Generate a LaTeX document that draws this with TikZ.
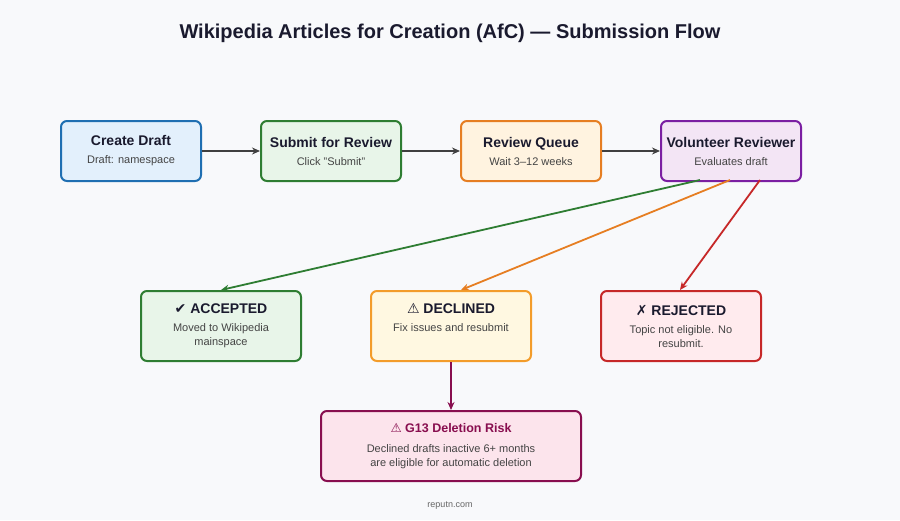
\documentclass[tikz,border=0pt]{standalone}
\usepackage{fontspec}
\setmainfont{Liberation Sans}
\newfontfamily\symf{DejaVu Sans}
\usetikzlibrary{arrows.meta}
\definecolor{bg}{HTML}{F8F9FB}
\definecolor{tx}{HTML}{1A1A2E}
\definecolor{sub}{HTML}{444444}
\definecolor{cB}{HTML}{1F6FB2}\definecolor{fB}{HTML}{E3F0FC}
\definecolor{cG}{HTML}{2E7D32}\definecolor{fG}{HTML}{E8F5E9}
\definecolor{cO}{HTML}{E67E22}\definecolor{fO}{HTML}{FFF3E0}
\definecolor{cP}{HTML}{7B1FA2}\definecolor{fP}{HTML}{F3E5F5}
\definecolor{cY}{HTML}{F39C2A}\definecolor{fY}{HTML}{FFF8E1}
\definecolor{cR}{HTML}{C62828}\definecolor{fR}{HTML}{FFEBEE}
\definecolor{cM}{HTML}{880E4F}\definecolor{fM}{HTML}{FCE4EC}
\tikzset{
 box/.style={draw=#1, line width=2pt, rounded corners=6pt, align=center, anchor=north west, inner sep=0pt, text=sub, font=\fontsize{11}{14}\selectfont},
 arr/.style={-{Stealth[length=8pt,width=7pt]}, line width=1.8pt},
}
\newcommand{\bx}[1]{{\fontsize{14}{17}\selectfont\bfseries\color{tx}#1}\\[4pt]}
\begin{document}
\begin{tikzpicture}[x=1pt,y=-1pt]
\fill[bg] (0,0) rectangle (900,520);
\useasboundingbox (0,0) rectangle (900,520);
\node[font=\fontsize{20}{24}\selectfont\bfseries, text=tx] (title) at (450,33) {Wikipedia Articles for Creation (AfC) — Submission Flow};
\node[box=cB, fill=fB, minimum width=140pt, minimum height=60pt] (a) at (60,120) {\bx{Create Draft}Draft: namespace};
\node[box=cG, fill=fG, minimum width=140pt, minimum height=60pt] (b) at (260,120) {\bx{Submit for Review}Click "Submit"};
\node[box=cO, fill=fO, minimum width=140pt, minimum height=60pt] (c) at (460,120) {\bx{Review Queue}Wait 3–12 weeks};
\node[box=cP, fill=fP, minimum width=140pt, minimum height=60pt] (d) at (660,120) {\bx{Volunteer Reviewer}Evaluates draft};
\node[box=cG, fill=fG, minimum width=160pt, minimum height=70pt] (e) at (140,290) {\bx{{\symf ✔} ACCEPTED}Moved to Wikipedia\\mainspace};
\node[box=cY, fill=fY, minimum width=160pt, minimum height=70pt] (f) at (370,290) {\bx{{\symf ⚠} DECLINED}Fix issues and resubmit\\\strut};
\node[box=cR, fill=fR, minimum width=160pt, minimum height=70pt] (g) at (600,290) {\bx{{\symf ✗} REJECTED}Topic not eligible. No\\resubmit.};
\node[box=cM, fill=fM, minimum width=260pt, minimum height=70pt] (h) at (320,410) {{\fontsize{12.5}{15}\selectfont\bfseries\color{cM}{\symf ⚠} G13 Deletion Risk}\\[6pt]Declined drafts inactive 6+ months\\are eligible for automatic deletion};
\draw[arr, draw=black!75] (a.east) -- (b.west);
\draw[arr, draw=black!75] (b.east) -- (c.west);
\draw[arr, draw=black!75] (c.east) -- (d.west);
\coordinate (d1) at (700,180); \coordinate (d2) at (730,180); \coordinate (d3) at (760,180);
\coordinate (g1) at (680,290);
\draw[arr, draw=cG] (d1) -- (e.north);
\draw[arr, draw=cO] (d2) -- ([xshift=10pt]f.north);
\draw[arr, draw=cR] (d3) -- (g1);
\draw[arr, draw=cM] (f.south) -- (h.north);
\node[font=\fontsize{9}{11}\selectfont, text=black!60] (foot) at (450,506) {reputn.com};
\end{tikzpicture}
\end{document}
